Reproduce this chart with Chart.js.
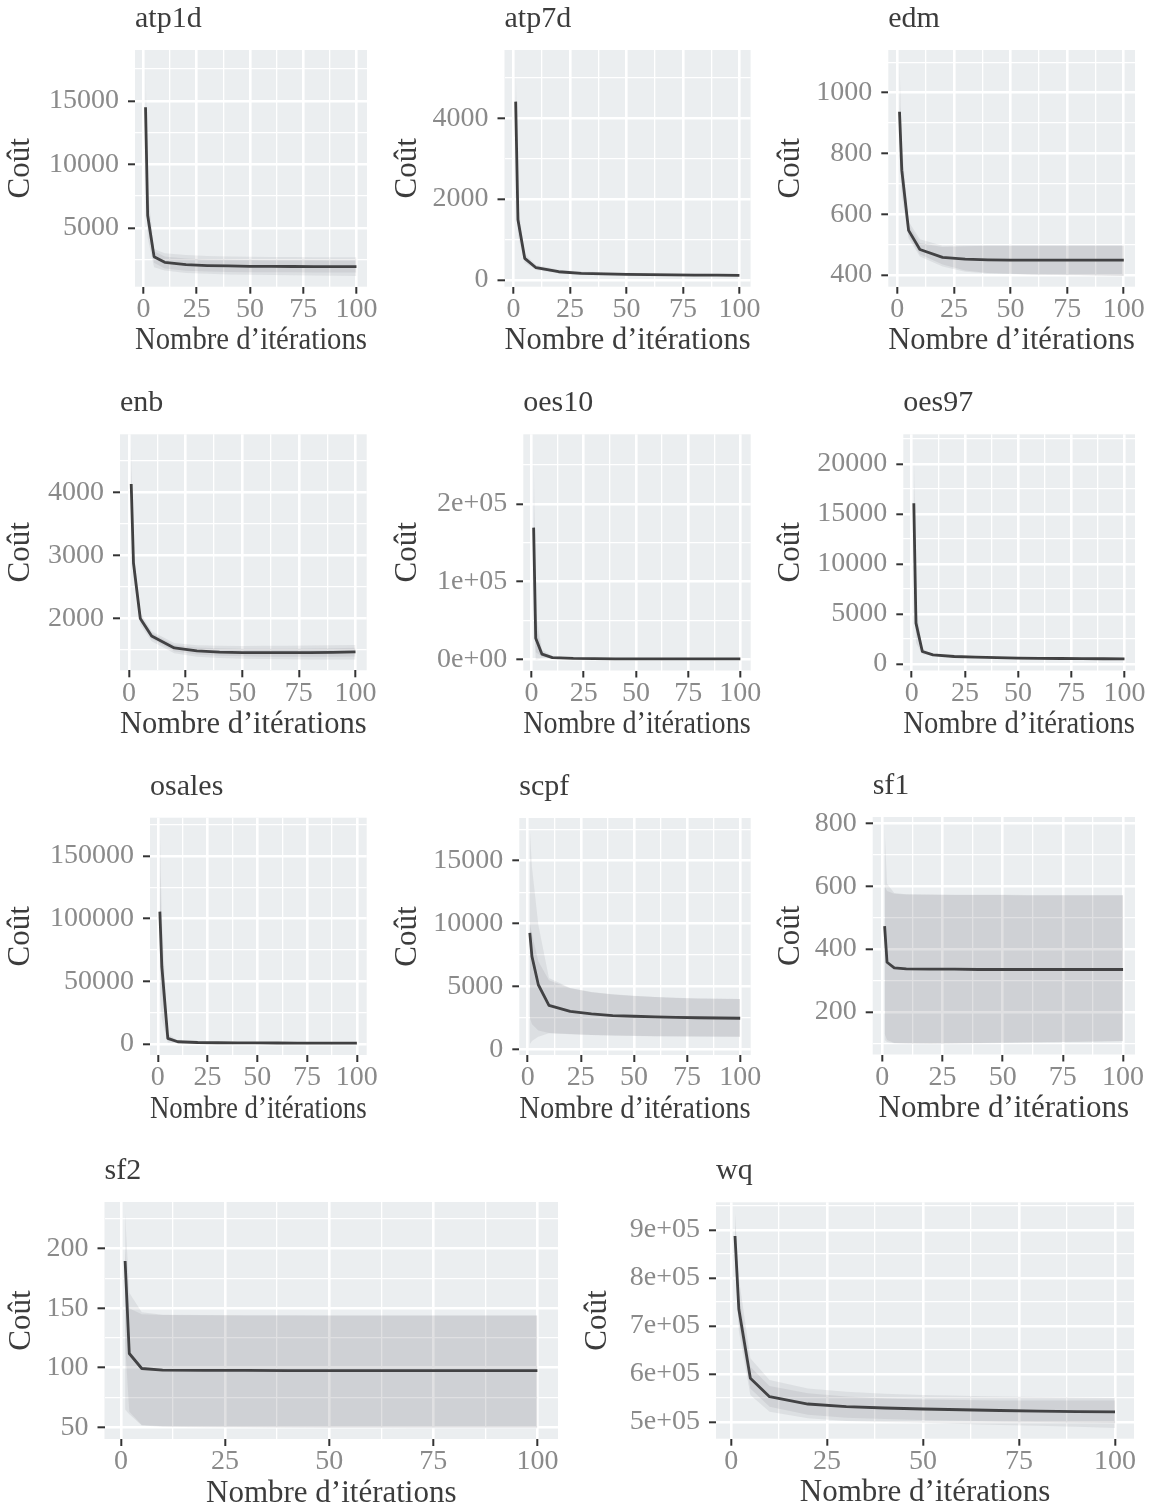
<!DOCTYPE html>
<html><head><meta charset="utf-8">
<script src="https://cdn.jsdelivr.net/npm/chart.js@4/dist/chart.umd.min.js"></script>
<style>
html,body{margin:0;padding:0;background:#fff;}
#wrap{position:relative;width:1158px;height:1510px;overflow:hidden;background:#fff;}
#wrap canvas{position:absolute;}
</style></head><body><div id="wrap"></div>
<script>
// ---------- DATA ----------
const iterations = [1, 2, 5, 10, 20, 30, 40, 50, 60, 70, 80, 90, 100];
const xMajor = [0, 25, 50, 75, 100];
const xMinor = [12.5, 37.5, 62.5, 87.5];

const atp1dMean = [14500, 5970, 2730, 2280, 2100, 2030, 1995, 1970, 1960, 1955, 1950, 1945, 1940];
const atp1dHiA  = [18158, 8000, 3340, 2990, 2850, 2790, 2750, 2720, 2710, 2700, 2690, 2685, 2680];
const atp1dLoA  = [11000, 4200, 1890, 1630, 1450, 1380, 1330, 1300, 1280, 1260, 1245, 1230, 1210];
const atp1dHiB  = [16000, 7000, 3150, 2750, 2580, 2510, 2480, 2460, 2450, 2445, 2440, 2435, 2430];
const atp1dLoB  = [13000, 5000, 2250, 1800, 1620, 1560, 1530, 1510, 1500, 1495, 1490, 1485, 1480];
const atp1dTicks = [5000, 10000, 15000];
const atp1dLabels = ['5000', '10000', '15000'];

const atp7dMean = [4410, 1489, 536, 304, 205, 165, 150, 140, 132, 126, 122, 119, 116];
const atp7dHiA  = [5420, 1900, 650, 370, 255, 210, 190, 178, 168, 160, 154, 150, 146];
const atp7dLoA  = [3400, 1100, 430, 250, 165, 130, 120, 112, 108, 105, 103, 102, 101];
const atp7dHiB  = [4900, 1700, 590, 340, 230, 188, 170, 159, 150, 143, 138, 135, 131];
const atp7dLoB  = [3900, 1300, 480, 270, 180, 145, 132, 124, 117, 112, 108, 105, 103];
const atp7dTicks = [0, 2000, 4000];
const atp7dLabels = ['0', '2000', '4000'];

const edmMean = [937, 745, 547, 484, 458, 452, 450, 449, 449, 449, 449, 449, 449];
const edmHiA  = [1105, 830, 576, 518, 496, 497, 497, 497, 497, 497, 497, 497, 497];
const edmLoA  = [780, 660, 521, 461, 428, 411, 405, 403, 401, 400, 399, 398, 397];
const edmHiB  = [1000, 800, 565, 505, 492, 495, 496, 496, 496, 496, 496, 496, 496];
const edmLoB  = [860, 690, 530, 468, 435, 415, 407, 404, 402, 401, 400, 399, 398];
const edmTicks = [400, 600, 800, 1000];
const edmLabels = ['400', '600', '800', '1000'];

const enbMean = [4132, 2880, 2000, 1724, 1533, 1486, 1468, 1460, 1458, 1458, 1460, 1464, 1470];
const enbHiA  = [4751, 3100, 2090, 1800, 1610, 1575, 1568, 1566, 1567, 1570, 1573, 1576, 1580];
const enbLoA  = [3500, 2650, 1900, 1640, 1450, 1395, 1372, 1362, 1357, 1354, 1352, 1350, 1349];
const enbHiB  = [4400, 2980, 2050, 1770, 1580, 1540, 1528, 1522, 1521, 1522, 1525, 1530, 1535];
const enbLoB  = [3850, 2780, 1950, 1680, 1480, 1430, 1410, 1400, 1395, 1393, 1393, 1395, 1398];
const enbTicks = [2000, 3000, 4000];
const enbLabels = ['2000', '3000', '4000'];

const oes10Mean = [169500, 27000, 6400, 2000, 900, 600, 450, 380, 330, 300, 280, 260, 250];
const oes10HiA  = [275900, 60000, 12000, 4000, 1800, 1200, 900, 800, 700, 650, 600, 580, 560];
const oes10LoA  = [63000, -800, 800, 300, 100, 60, 40, 30, 20, 15, 10, 5, 0];
const oes10HiB  = [230000, 45000, 9500, 3000, 1400, 950, 700, 600, 520, 480, 450, 420, 400];
const oes10LoB  = [110000, 9000, 3300, 1000, 400, 250, 200, 160, 140, 120, 110, 100, 100];
const oes10Ticks = [0, 100000, 200000];
const oes10Labels = ['0e+00', '1e+05', '2e+05'];

const oes97Mean = [16070, 4070, 1230, 900, 730, 660, 620, 570, 550, 530, 515, 505, 500];
const oes97HiA  = [21895, 6000, 1500, 1000, 800, 720, 680, 640, 620, 600, 585, 575, 570];
const oes97LoA  = [10200, 2100, 950, 800, 660, 600, 560, 520, 490, 460, 440, 420, 405];
const oes97HiB  = [19000, 5000, 1370, 950, 765, 690, 650, 605, 585, 565, 550, 540, 535];
const oes97LoB  = [13100, 3100, 1090, 850, 695, 630, 590, 545, 520, 495, 480, 470, 465];
const oes97Ticks = [0, 5000, 10000, 15000, 20000];
const oes97Labels = ['0', '5000', '10000', '15000', '20000'];

const osalesMean = [105580, 61640, 4500, 1800, 1200, 1000, 900, 850, 800, 780, 750, 720, 700];
const osalesHiA  = [171935, 100000, 8000, 2800, 1800, 1500, 1300, 1200, 1150, 1100, 1050, 1000, 980];
const osalesLoA  = [40000, 20000, 1000, 800, 600, 500, 400, 300, 200, 100, 0, -100, -165];
const osalesHiB  = [140000, 80000, 6200, 2300, 1500, 1250, 1100, 1020, 970, 940, 900, 860, 840];
const osalesLoB  = [70000, 40000, 2800, 1300, 900, 750, 650, 600, 550, 520, 480, 450, 420];
const osalesTicks = [0, 50000, 100000, 150000];
const osalesLabels = ['0', '50000', '100000', '150000'];

const scpfMean = [9260, 7390, 5135, 3500, 3020, 2810, 2680, 2630, 2580, 2540, 2510, 2490, 2470];
const scpfHiA  = [17543, 14500, 9900, 5670, 4870, 4550, 4380, 4250, 4170, 4100, 4050, 4020, 4000];
const scpfLoA  = [403, 650, 1000, 1270, 1200, 1130, 1090, 1060, 1040, 1025, 1015, 1005, 1000];
const scpfHiB  = [10000, 9200, 7000, 5500, 4850, 4530, 4360, 4240, 4160, 4090, 4045, 4015, 3995];
const scpfLoB  = [2500, 2000, 1500, 1300, 1210, 1140, 1100, 1070, 1045, 1030, 1020, 1010, 1005];
const scpfTicks = [0, 5000, 10000, 15000];
const scpfLabels = ['0', '5000', '10000', '15000'];

const sf1Mean = [473, 358, 340, 337, 336, 336, 335, 335, 335, 335, 335, 335, 335];
const sf1HiA  = [786.6, 608, 579, 575, 574, 573, 573, 573, 572, 572, 572, 572, 572];
const sf1LoA  = [110, 104, 100, 99, 98.4, 99, 100, 101, 102, 103, 104, 105, 106];
const sf1HiB  = [600, 585, 576, 574, 573, 572, 572, 572, 571, 571, 571, 571, 571];
const sf1LoB  = [130, 110, 101, 100, 99, 100, 101, 102, 103, 104, 105, 106, 107];
const sf1Ticks = [200, 400, 600, 800];
const sf1Labels = ['200', '400', '600', '800'];

const sf2Mean = [189.7, 112, 99.4, 98, 97.8, 97.8, 97.7, 97.7, 97.7, 97.7, 97.7, 97.7, 97.7];
const sf2HiA  = [230.2, 163, 146.6, 144.6, 144.3, 144.2, 144.1, 144, 144, 144, 144, 144, 144];
const sf2LoA  = [65, 61, 51.6, 50.5, 50, 49.8, 49.6, 49.5, 49.4, 49.3, 49.3, 49.3, 49.25];
const sf2HiB  = [200, 150, 145, 144.3, 144.1, 144, 144, 143.9, 143.9, 143.9, 143.9, 143.9, 143.9];
const sf2LoB  = [120, 63, 52, 51, 50.5, 50.3, 50.1, 50, 50, 50, 50, 50, 50];
const sf2Ticks = [50, 100, 150, 200];
const sf2Labels = ['50', '100', '150', '200'];

const wqMean = [887500, 734800, 591000, 552700, 537500, 531900, 529200, 527100, 525500, 524000, 522800, 521800, 521000];
const wqHiA  = [935300, 800000, 632700, 587500, 570000, 563000, 559000, 556000, 554500, 553000, 552000, 551000, 550000];
const wqLoA  = [840000, 690000, 556000, 521500, 507600, 502000, 500000, 498600, 496000, 494000, 492000, 490000, 487600];
const wqHiB  = [910000, 770000, 615000, 575000, 560000, 553000, 549000, 547000, 546000, 545000, 545000, 545000, 545000];
const wqLoB  = [860000, 705000, 570000, 532000, 515000, 509000, 506000, 504000, 502500, 501000, 500000, 499000, 498000];
const wqTicks = [500000, 600000, 700000, 800000, 900000];
const wqLabels = ['5e+05', '6e+05', '7e+05', '8e+05', '9e+05'];

const panelNames = ['atp1d','atp7d','edm','enb','oes10','oes97','osales','scpf','sf1','sf2','wq'];
const xTitle = 'Nombre d\u2019itérations';
const yTitle = 'Coût';

// ---------- LAYOUT (positions only) ----------
const layout = {
  atp1d:  {cl: 0,   pt: 50,    pl: 135,   pr: 367,   pb: 286.7},
  atp7d:  {cl: 387, pt: 50,    pl: 504.5, pr: 750.6, pb: 286.7},
  edm:    {cl: 770, pt: 50,    pl: 888.3, pr: 1135,  pb: 286.7},
  enb:    {cl: 0,   pt: 434.3, pl: 120,   pr: 366.7, pb: 670.3},
  oes10:  {cl: 387, pt: 434.3, pl: 523.3, pr: 750.7, pb: 670.5},
  oes97:  {cl: 770, pt: 434.3, pl: 903.3, pr: 1135,  pb: 670.5},
  osales: {cl: 0,   pt: 817.7, pl: 150,   pr: 366.7, pb: 1055},
  scpf:   {cl: 387, pt: 818,   pl: 519.3, pr: 750.7, pb: 1055},
  sf1:    {cl: 770, pt: 817,   pl: 872.7, pr: 1135,  pb: 1054.5},
  sf2:    {cl: 1,   pt: 1202,  pl: 104.5, pr: 558,   pb: 1439},
  wq:     {cl: 577, pt: 1202.3,pl: 716,   pr: 1134,  pb: 1438.7}
};

const FONT = "'Liberation Serif', 'Times New Roman', serif";
const PANEL_BG = '#EBEEF0';
const RIBBON = 'rgba(80,82,88,0.09)';
const LINE = '#404040';
const TITLE_SIZE = 30;
const AXIS_TITLE_SIZE = 31;
const TICK_SIZE = 28;

const bgPlugin = {
  id: 'panelBg',
  beforeDraw(chart) {
    const a = chart.chartArea, c = chart.ctx;
    c.save(); c.fillStyle = PANEL_BG; c.fillRect(a.left, a.top, a.right - a.left, a.bottom - a.top); c.restore();
  }
};

const wrap = document.getElementById('wrap');

function near(list, v, tol) { return list.some(m => Math.abs(m - v) <= tol); }

const series = {
  atp1d:  [atp1dMean, atp1dHiA, atp1dLoA, atp1dHiB, atp1dLoB, atp1dTicks, atp1dLabels],
  atp7d:  [atp7dMean, atp7dHiA, atp7dLoA, atp7dHiB, atp7dLoB, atp7dTicks, atp7dLabels],
  edm:    [edmMean, edmHiA, edmLoA, edmHiB, edmLoB, edmTicks, edmLabels],
  enb:    [enbMean, enbHiA, enbLoA, enbHiB, enbLoB, enbTicks, enbLabels],
  oes10:  [oes10Mean, oes10HiA, oes10LoA, oes10HiB, oes10LoB, oes10Ticks, oes10Labels],
  oes97:  [oes97Mean, oes97HiA, oes97LoA, oes97HiB, oes97LoB, oes97Ticks, oes97Labels],
  osales: [osalesMean, osalesHiA, osalesLoA, osalesHiB, osalesLoB, osalesTicks, osalesLabels],
  scpf:   [scpfMean, scpfHiA, scpfLoA, scpfHiB, scpfLoB, scpfTicks, scpfLabels],
  sf1:    [sf1Mean, sf1HiA, sf1LoA, sf1HiB, sf1LoB, sf1Ticks, sf1Labels],
  sf2:    [sf2Mean, sf2HiA, sf2LoA, sf2HiB, sf2LoB, sf2Ticks, sf2Labels],
  wq:     [wqMean, wqHiA, wqLoA, wqHiB, wqLoB, wqTicks, wqLabels]
};

panelNames.forEach(name => {
  const [mean, hiA, loA, hiB, loB, yMajor, yLabels] = series[name];
  const L = layout[name];

  const all = [].concat(mean, hiA, loA, hiB, loB);
  const dmin = Math.min(...all), dmax = Math.max(...all);
  const ex = (dmax - dmin) * 0.05;
  const ymin = dmin - ex, ymax = dmax + ex;
  const xr = (iterations[iterations.length - 1] - iterations[0]) * 0.05;
  const xmin = iterations[0] - xr, xmax = iterations[iterations.length - 1] + xr;
  const step = yMajor[1] - yMajor[0];
  const tol = step * 1e-4;
  const yMinor = [yMajor[0] - step / 2].concat(yMajor.map(v => v + step / 2)).filter(v => v > ymin && v < ymax);

  const left = L.cl, top = Math.round(L.pt - 50);
  const W = Math.round(L.pr + 20 - left);
  const H = Math.round(L.pb + 73.5 - top);
  const yW = L.pl - left;
  const xH = H - (L.pb - top);
  const padRight = W - (L.pr - left);
  const titleTopPad = 1;
  const titleBottomPad = (L.pt - top) - TITLE_SIZE * 1.2 - titleTopPad;

  const cv = document.createElement('canvas');
  cv.width = W; cv.height = H;
  cv.style.left = left + 'px'; cv.style.top = top + 'px';
  cv.style.width = W + 'px'; cv.style.height = H + 'px';
  wrap.appendChild(cv);

  const pts = arr => iterations.map((x, i) => ({x: x, y: arr[i]}));
  const ribbonDs = (arr, fill) => ({data: pts(arr), borderWidth: 0, pointRadius: 0, fill: fill, backgroundColor: RIBBON, tension: 0});

  const gridCommon = (majors, t) => ({
    color: '#ffffff',
    lineWidth: c => (c.tick && near(majors, c.tick.value, t)) ? 2.6 : 1.3,
    drawTicks: true,
    tickLength: 7,
    tickWidth: 2,
    tickColor: c => (c.tick && near(majors, c.tick.value, t)) ? '#333333' : 'rgba(0,0,0,0)'
  });

  new Chart(cv, {
    type: 'line',
    data: {
      datasets: [
        ribbonDs(hiA, '+1'), ribbonDs(loA, false),
        ribbonDs(hiB, '+1'), ribbonDs(loB, false),
        {data: pts(mean), borderColor: LINE, borderWidth: 2.8, pointRadius: 0, fill: false, tension: 0, borderJoinStyle: 'round', borderCapStyle: 'butt'}
      ]
    },
    options: {
      responsive: false, animation: false, devicePixelRatio: 1, events: [],
      layout: {padding: {left: 0, top: 0, bottom: 0, right: padRight}},
      plugins: {
        legend: {display: false}, tooltip: {enabled: false},
        title: {display: true, text: name, align: 'start', fullSize: false, color: '#3c3c3c',
          font: {family: FONT, size: TITLE_SIZE, weight: 'normal', lineHeight: 1.2},
          padding: {top: titleTopPad, bottom: titleBottomPad}}
      },
      scales: {
        x: {
          type: 'linear', min: xmin, max: xmax,
          afterBuildTicks: s => { s.ticks = xMajor.concat(xMinor).sort((a, b) => a - b).map(v => ({value: v})); },
          afterFit: s => { s.height = xH; s.paddingLeft = 0; s.paddingRight = 0; },
          ticks: {autoSkip: false, maxRotation: 0, minRotation: 0, padding: 2, color: '#8a8a8a',
            font: {family: FONT, size: TICK_SIZE, lineHeight: 1},
            callback: v => xMajor.includes(v) ? String(v) : ''},
          grid: gridCommon(xMajor, 1e-6),
          border: {display: false},
          title: {display: true, text: xTitle, color: '#3c3c3c',
            font: {family: FONT, size: AXIS_TITLE_SIZE, lineHeight: 1.2}, padding: {top: 0, bottom: 1}}
        },
        y: {
          type: 'linear', min: ymin, max: ymax,
          afterBuildTicks: s => { s.ticks = yMajor.concat(yMinor).sort((a, b) => a - b).map(v => ({value: v})); },
          afterFit: s => { s.width = yW; s.paddingTop = 0; s.paddingBottom = 0; },
          ticks: {autoSkip: false, padding: 9, color: '#8a8a8a',
            font: {family: FONT, size: TICK_SIZE, lineHeight: 1},
            callback: v => { const i = yMajor.findIndex(m => Math.abs(m - v) <= tol); return i >= 0 ? yLabels[i] : ''; }},
          grid: gridCommon(yMajor, tol),
          border: {display: false},
          title: {display: true, text: yTitle, color: '#3c3c3c',
            font: {family: FONT, size: AXIS_TITLE_SIZE, lineHeight: 1.2}, padding: {top: 2.6, bottom: 0}}
        }
      }
    },
    plugins: [bgPlugin]
  });
});
</script></body></html>
